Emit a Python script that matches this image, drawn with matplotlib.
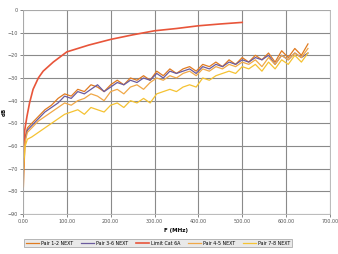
import matplotlib
matplotlib.use("Agg")
import matplotlib.pyplot as plt

# Frequency axis (MHz)
freq = [1, 5, 10, 20, 35, 50, 65, 80, 95, 110, 125, 140, 155, 170, 185, 200,
        215, 230, 245, 260, 275, 290, 305, 320, 335, 350, 365, 380, 395, 410,
        425, 440, 455, 470, 485, 500, 515, 530, 545, 560, 575, 590, 605, 620,
        635, 650]

s1 = [-78, -56, -52, -50, -47, -44, -42, -39, -37, -38, -35, -36, -33, -34, -36, -33,
      -31, -33, -30, -31, -29, -31, -27, -29, -26, -28, -26, -25, -27, -24,
      -25, -23, -25, -22, -24, -21, -23, -20, -22, -19, -23, -18, -21, -17,
      -20, -15]
s2 = [-62, -57, -53, -51, -48, -45, -43, -41, -38, -39, -36, -37, -35, -33, -36, -34,
      -32, -33, -31, -32, -30, -31, -28, -30, -27, -28, -27, -26, -28, -25,
      -26, -24, -25, -23, -24, -22, -23, -21, -22, -20, -24, -20, -22, -19,
      -21, -19]
s3 = [-65, -58, -54, -52, -49, -47, -45, -43, -41, -42, -40, -39, -37, -38, -40, -36,
      -35, -37, -34, -33, -35, -32, -30, -31, -29, -30, -28, -27, -29, -26,
      -27, -25, -26, -24, -25, -23, -24, -22, -25, -21, -24, -20, -22, -19,
      -21, -17]
s4 = [-70, -60, -57, -56, -54, -52, -50, -48, -46, -45, -44, -46, -43, -44, -45, -42,
      -41, -43, -40, -41, -39, -41, -37, -36, -35, -36, -34, -33, -34, -30,
      -31, -29, -28, -27, -28, -25, -26, -24, -27, -23, -26, -22, -24, -20,
      -23, -19]

limit_f = [1, 2, 4, 9, 15, 23, 35, 46, 69, 100, 150, 200, 250, 300, 350, 400, 450, 500]
limit_v = [-69, -60, -53, -47, -41, -35, -30, -27, -23, -18.5, -15.5, -13, -11, -9.2, -8.2, -7, -6.2, -5.5]

series_labels = ["Pair 1-2 NEXT", "Pair 3-6 NEXT", "Limit Cat 6A", "Pair 4-5 NEXT", "Pair 7-8 NEXT"]

fig = plt.figure(figsize=(3.38, 2.54), dpi=100)
ax = fig.add_axes([0.068, 0.157, 0.908, 0.804])

ax.plot(freq, s1, color="#e07b20", lw=0.9, label=series_labels[0])
ax.plot(freq, s2, color="#6b5b9e", lw=0.9, label=series_labels[1])
ax.plot(limit_f, limit_v, color="#e8553a", lw=1.2, label=series_labels[2])
ax.plot(freq, s3, color="#f0a848", lw=0.9, label=series_labels[3])
ax.plot(freq, s4, color="#f5c232", lw=0.9, label=series_labels[4])

ax.set_xlim(0, 700)
ax.set_ylim(-90, 0)
ax.set_xticks(range(0, 701, 100))
ax.set_xticklabels([f"{v:.2f}" for v in range(0, 701, 100)])
ax.set_yticks(range(-90, 1, 10))
ax.grid(True, color="#8a8a8a", lw=0.8)
ax.set_axisbelow(True)
for sp in ax.spines.values():
    sp.set_color("#b0b0b0")
    sp.set_linewidth(0.6)
ax.tick_params(labelsize=3.5, length=2, width=0.5, colors="#555555", pad=1.5)

ax.set_xlabel("F (MHz)", fontsize=4, fontweight="bold", labelpad=3)
ax.set_ylabel("dB", fontsize=4, fontweight="bold", labelpad=1)

leg = ax.legend(loc="upper center", bbox_to_anchor=(0.44, -0.11), ncol=5,
                fontsize=3.4, frameon=True, handlelength=2.8, columnspacing=1.6,
                borderpad=0.35, handletextpad=0.4, fancybox=False)
leg.get_frame().set_edgecolor("#888888")
leg.get_frame().set_facecolor("#e4e4e4")
leg.get_frame().set_linewidth(0.5)

fig.savefig("out.png", dpi=100)
